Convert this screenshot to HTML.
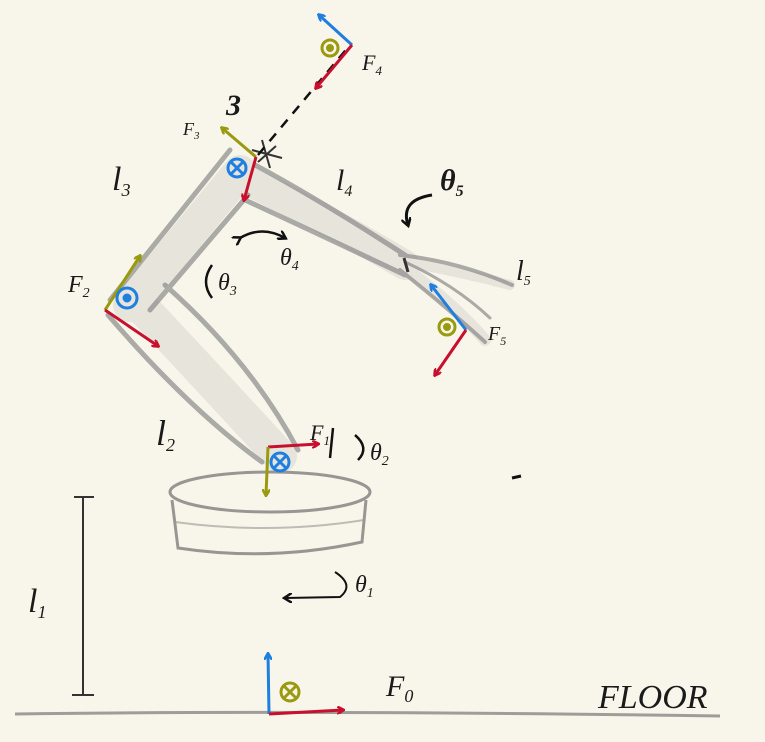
<!DOCTYPE html>
<html><head><meta charset="utf-8"><style>
html,body{margin:0;padding:0;background:#f8f6ea;}
svg{display:block}
text{font-family:"Liberation Serif",serif;font-style:italic;fill:#1a1a1a}
</style></head><body>
<svg width="765" height="742" viewBox="0 0 765 742">
<defs>
<marker id="ar" markerWidth="8" markerHeight="8" refX="6" refY="4" orient="auto" markerUnits="userSpaceOnUse"><path d="M0,0 L7,4 L0,8" fill="none" stroke="#c8102e" stroke-width="2.5"/></marker>
<marker id="ab" markerWidth="8" markerHeight="8" refX="6" refY="4" orient="auto" markerUnits="userSpaceOnUse"><path d="M0,0 L7,4 L0,8" fill="none" stroke="#1e7fe0" stroke-width="2.5"/></marker>
<marker id="ao" markerWidth="8" markerHeight="8" refX="6" refY="4" orient="auto" markerUnits="userSpaceOnUse"><path d="M0,0 L7,4 L0,8" fill="none" stroke="#9a9a10" stroke-width="2.5"/></marker>
<marker id="ak" markerWidth="10" markerHeight="10" refX="7" refY="5" orient="auto" markerUnits="userSpaceOnUse"><path d="M0,0 L8,5 L0,10" fill="none" stroke="#111" stroke-width="2.5"/></marker>
</defs>
<rect width="765" height="742" fill="#f8f6ea"/>

<g>
<path d="M15,714 Q300,710 720,716" stroke="#777" stroke-width="3" fill="none" opacity="0.7"/>
<text x="598" y="708" font-size="34" font-family="Liberation Sans" style="font-style:italic">FLOOR</text>
</g>

<g stroke="#333" stroke-width="2" fill="none">
<line x1="83" y1="497" x2="83" y2="695"/><line x1="74" y1="497" x2="94" y2="497"/><line x1="72" y1="695" x2="94" y2="695"/>
</g>
<text x="28" y="612" font-size="34">l<tspan font-size="18" dy="6">1</tspan></text>

<g fill="none" stroke="#777" stroke-width="3" opacity="0.75">
<ellipse cx="270" cy="492" rx="100" ry="20"/>
<path d="M172,500 L178,548 Q270,562 362,542 L366,500"/>
<path d="M175,522 Q270,535 364,520" stroke-width="2" opacity="0.6"/>
</g>

<g fill="none" stroke="#999" stroke-linecap="round" opacity="0.18">
<path d="M135,300 Q215,385 280,456" stroke-width="34"/>
<path d="M130,305 L240,172" stroke-width="34"/>
<path d="M250,182 Q320,215 405,265" stroke-width="30"/>
<path d="M405,262 Q460,272 510,285" stroke-width="10"/>
<path d="M405,268 Q455,305 485,340" stroke-width="12"/>
</g>
<g fill="none" stroke="#8a8a8a" stroke-linecap="round" opacity="0.7">
<path d="M108,315 Q190,410 262,462" stroke-width="5"/>
<path d="M165,285 Q250,360 298,450" stroke-width="5"/>
<path d="M110,300 L230,150" stroke-width="5"/>
<path d="M150,310 L248,195" stroke-width="5"/>
<path d="M255,165 Q320,200 405,255" stroke-width="5"/>
<path d="M245,200 Q310,230 405,275" stroke-width="5"/>
<path d="M400,255 Q460,262 512,285" stroke-width="4"/>
<path d="M400,270 Q450,310 485,342" stroke-width="4"/>
<path d="M405,262 Q455,285 490,318" stroke-width="3"/>
</g>
<path d="M262,140 L270,168 M252,150 L282,158 M258,162 L276,146" stroke="#333" stroke-width="2" fill="none"/>
<path d="M404,258 L408,272" stroke="#333" stroke-width="3"/>
<path d="M258,155 L350,45" stroke="#111" stroke-width="2.5" stroke-dasharray="10,8" fill="none"/>

<g stroke-width="3" fill="none">
<line x1="269" y1="714" x2="268" y2="654" stroke="#1e7fe0" marker-end="url(#ab)"/>
<line x1="269" y1="714" x2="343" y2="710" stroke="#c8102e" marker-end="url(#ar)"/>
<circle cx="290" cy="692" r="9" stroke="#9a9a10"/><path d="M284,686 L296,698 M296,686 L284,698" stroke="#9a9a10"/>
</g>
<text x="386" y="696" font-size="30">F<tspan font-size="18" dy="6">0</tspan></text>

<path d="M335,572 Q355,585 340,597 L285,598" stroke="#111" stroke-width="2" fill="none" marker-end="url(#ak)"/>
<text x="355" y="592" font-size="24">θ<tspan font-size="14" dy="5">1</tspan></text>

<g stroke-width="3" fill="none">
<line x1="268" y1="447" x2="318" y2="444" stroke="#c8102e" marker-end="url(#ar)"/>
<line x1="268" y1="447" x2="266" y2="495" stroke="#9a9a10" marker-end="url(#ao)"/>
<circle cx="280" cy="462" r="9" stroke="#1e7fe0"/><path d="M274,456 L286,468 M286,456 L274,468" stroke="#1e7fe0"/>
</g>
<text x="310" y="440" font-size="22">F<tspan font-size="13" dy="5">1</tspan></text>
<path d="M333,428 L330,458 M355,435 Q370,448 358,460" stroke="#111" stroke-width="2.5" fill="none"/>
<text x="370" y="460" font-size="24">θ<tspan font-size="14" dy="5">2</tspan></text>
<text x="156" y="445" font-size="36">l<tspan font-size="18" dy="6">2</tspan></text>

<g stroke-width="3" fill="none">
<line x1="105" y1="310" x2="140" y2="256" stroke="#9a9a10" marker-end="url(#ao)"/>
<line x1="105" y1="310" x2="158" y2="346" stroke="#c8102e" marker-end="url(#ar)"/>
<circle cx="127" cy="298" r="10" stroke="#1e7fe0"/><circle cx="127" cy="298" r="3" fill="#1e7fe0" stroke="#1e7fe0"/>
</g>
<text x="68" y="292" font-size="24">F<tspan font-size="14" dy="5">2</tspan></text>
<path d="M212,265 Q200,282 212,298" stroke="#111" stroke-width="2.5" fill="none"/>
<text x="218" y="290" font-size="24">θ<tspan font-size="14" dy="5">3</tspan></text>
<text x="112" y="190" font-size="34">l<tspan font-size="18" dy="6">3</tspan></text>

<g stroke-width="3" fill="none">
<line x1="256" y1="157" x2="222" y2="128" stroke="#9a9a10" marker-end="url(#ao)"/>
<line x1="256" y1="157" x2="244" y2="200" stroke="#c8102e" marker-end="url(#ar)"/>
<circle cx="237" cy="168" r="9" stroke="#1e7fe0"/><path d="M231,162 L243,174 M243,162 L231,174" stroke="#1e7fe0"/>
</g>
<text x="183" y="135" font-size="18">F<tspan font-size="11" dy="4">3</tspan></text>
<text x="226" y="115" font-size="30" font-weight="bold">3</text>

<path d="M240,238 Q262,225 285,238" stroke="#111" stroke-width="2.5" fill="none" marker-end="url(#ak)" marker-start="url(#ak)"/>
<text x="280" y="265" font-size="24">θ<tspan font-size="14" dy="5">4</tspan></text>
<text x="336" y="190" font-size="30">l<tspan font-size="16" dy="6">4</tspan></text>

<path d="M432,195 Q400,200 408,225" stroke="#111" stroke-width="3" fill="none" marker-end="url(#ak)"/>
<text x="440" y="190" font-size="30" font-weight="bold">θ<tspan font-size="16" dy="6">5</tspan></text>
<text x="516" y="280" font-size="28">l<tspan font-size="14" dy="5">5</tspan></text>

<g stroke-width="3" fill="none">
<line x1="352" y1="45" x2="319" y2="15" stroke="#1e7fe0" marker-end="url(#ab)"/>
<line x1="352" y1="45" x2="316" y2="88" stroke="#c8102e" marker-end="url(#ar)"/>
<circle cx="330" cy="48" r="8" stroke="#9a9a10"/><circle cx="330" cy="48" r="2.5" fill="#9a9a10" stroke="#9a9a10"/>
</g>
<text x="362" y="70" font-size="22">F<tspan font-size="13" dy="5">4</tspan></text>

<g stroke-width="3" fill="none">
<line x1="466" y1="330" x2="431" y2="285" stroke="#1e7fe0" marker-end="url(#ab)"/>
<line x1="466" y1="330" x2="435" y2="375" stroke="#c8102e" marker-end="url(#ar)"/>
<circle cx="447" cy="327" r="8" stroke="#9a9a10"/><circle cx="447" cy="327" r="2.5" fill="#9a9a10" stroke="#9a9a10"/>
</g>
<text x="488" y="340" font-size="20">F<tspan font-size="12" dy="5">5</tspan></text>
<path d="M512,478 L521,476" stroke="#111" stroke-width="3"/>
</svg>
</body></html>
